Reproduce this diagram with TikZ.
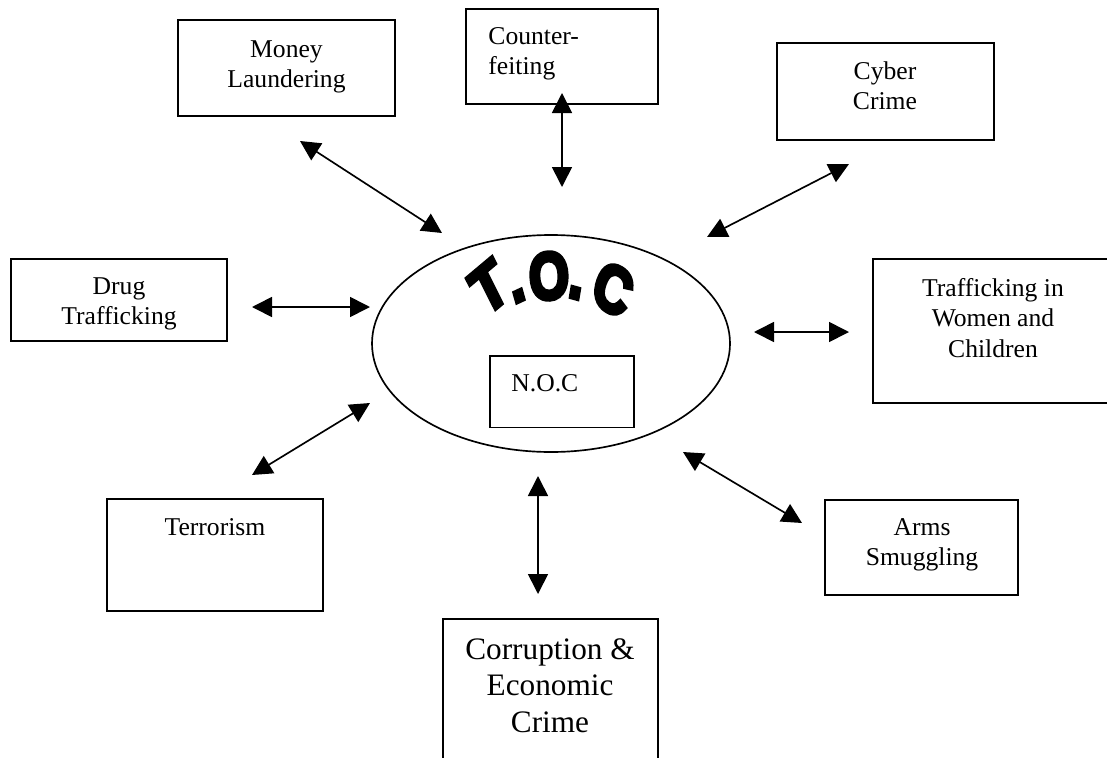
\documentclass[tikz,border=0pt]{standalone}
\usepackage{fontspec}
\setmainfont{Liberation Serif}
\newfontfamily\tocfont[FakeBold=7, BoldFeatures={FakeBold=7}]{Liberation Sans}
\usetikzlibrary{arrows.meta,shapes.geometric,fit}
\begin{document}
\begin{tikzpicture}[x=0.48pt, y=-0.48pt,
  boxst/.style={draw, line width=0.9pt, inner sep=0pt},
  lbl/.style={align=center, anchor=north, inner sep=0pt, font=\fontsize{12.3}{14.6}\selectfont},
  lblL/.style={align=left, anchor=north west, inner sep=0pt, font=\fontsize{12.3}{14.6}\selectfont},
  lblBig/.style={align=center, anchor=north, inner sep=0pt, font=\fontsize{15}{17.6}\selectfont},
  link/.style={{Triangle[length=9.6pt,width=9.6pt]}-{Triangle[length=9.6pt,width=9.6pt]}, line width=0.8pt},
  tocl/.style={font=\tocfont\bfseries\fontsize{30}{30}\selectfont, inner sep=0pt, xscale=0.82, yscale=1.06}
]
\useasboundingbox (0,0) rectangle (1107,757);

% boxes
\node[boxst, fit={(178,20) (395,116)}] (ml) {};
\node[boxst, fit={(466,9) (658,104)}] (cf) {};
\node[boxst, fit={(777,43) (994,140)}] (cc) {};
\node[boxst, fit={(11,259) (227,341)}] (dt) {};
\node[boxst, fit={(873,259) (1114,403)}] (tw) {};
\node[boxst, fit={(107,499) (323,611)}] (te) {};
\node[boxst, fit={(825,500) (1018,595)}] (as) {};
\node[boxst, fit={(443,619) (658,775)}] (ce) {};
\node[draw, ellipse, line width=0.8pt, minimum width=171.84pt, minimum height=104.16pt, inner sep=0pt] (toc) at (551,343.5) {};
\node[boxst, fit={(490,356) (634,427.5)}] (noc) {};

% labels
\node[lbl] (mlt) at (286.5,40) {Money\\Laundering};
\node[lblL] (cft) at (488,27) {Counter-\\feiting};
\node[lbl] (cct) at (885,61) {Cyber\\Crime};
\node[lbl] (dtt) at (119,277) {Drug\\Trafficking};
\node[lbl] (twt) at (993,278) {Trafficking in\\Women and\\Children};
\node[lbl] (tet) at (215,518) {Terrorism};
\node[lbl] (ast) at (922,518) {Arms\\Smuggling};
\node[lblL] (noct) at (511,374) {N.O.C};
\node[lblBig] (cet) at (550,638) {Corruption \&\\Economic\\Crime};

% T.O.C arched letters
\node[tocl, rotate=33] (l1) at (489,287) {T};
\node[tocl, rotate=20] (l2) at (519,296) {.};
\node[tocl, rotate=3] (l3) at (549,276) {O};
\node[tocl, rotate=-12] (l4) at (575,293) {.};
\node[tocl, rotate=-25] (l5) at (613,289) {C};

% arrow end points
\coordinate (a1) at (300,141); \coordinate (b1) at (442,233);
\coordinate (a2) at (562,93);  \coordinate (b2) at (562,187);
\coordinate (a3) at (707,237); \coordinate (b3) at (849,164);
\coordinate (a4) at (252,307); \coordinate (b4) at (370,307);
\coordinate (a5) at (754,332); \coordinate (b5) at (849,332);
\coordinate (a6) at (252,475); \coordinate (b6) at (370,403);
\coordinate (a7) at (538,476); \coordinate (b7) at (538,594);
\coordinate (a8) at (683,452); \coordinate (b8) at (802,523);

\draw[link] (a1) -- (b1);
\draw[link] (a2) -- (b2);
\draw[link] (a3) -- (b3);
\draw[link] (a4) -- (b4);
\draw[link] (a5) -- (b5);
\draw[link] (a6) -- (b6);
\draw[link] (a7) -- (b7);
\draw[link] (a8) -- (b8);
\end{tikzpicture}
\end{document}
